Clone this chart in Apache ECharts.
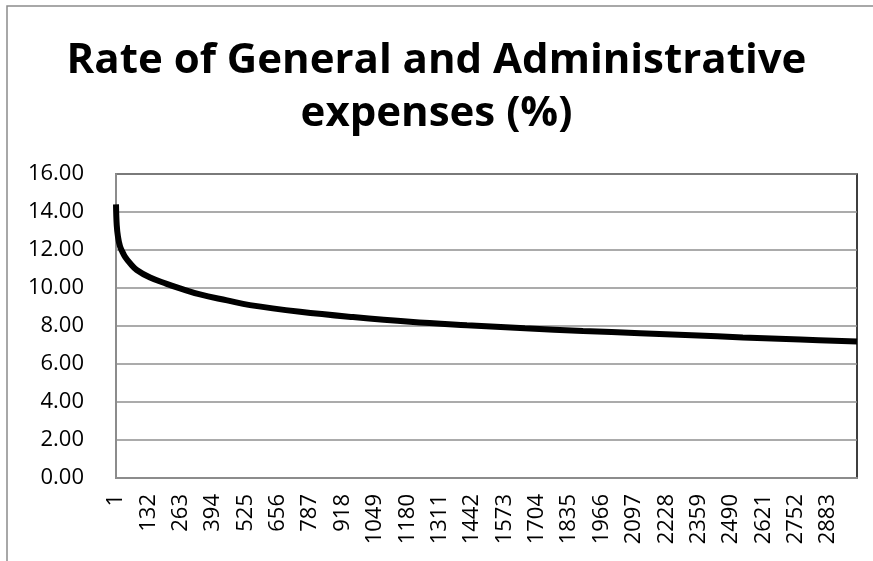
<!DOCTYPE html>
<html>
<head>
<meta charset="utf-8">
<script src="https://cdn.jsdelivr.net/npm/echarts@6/dist/echarts.min.js"></script>
<style>
  html, body { margin: 0; padding: 0; background: #fff; }
  #chart { width: 873px; height: 561px; }
</style>
</head>
<body>
<div id="chart"></div>
<script>
// number of periods on the x axis (labels 1..N)
const periodCount = 3000
const categories = Array.from({ length: periodCount }, (_, i) => String(i + 1))

// points: category index -> rate (%)
const sampleIndex = [0, 3, 8, 16, 26, 36, 57, 84, 138, 205, 259, 340, 450, 542, 745, 959, 1190, 1420, 1655, 1890, 2121, 2330, 2537, 2770, 2999]
const rateValues = [14.4, 13.3, 12.7, 12.2, 11.9, 11.65, 11.3, 10.95, 10.55, 10.22, 9.98, 9.66, 9.35, 9.1, 8.75, 8.47, 8.22, 8.04, 7.88, 7.74, 7.62, 7.51, 7.4, 7.29, 7.18]

const yTicks = { min: 0, max: 16, interval: 2 }

const chart = echarts.init(document.getElementById('chart'))

chart.setOption({
  animation: false,
  backgroundColor: '#fff',
  graphic: [
    {
      type: 'rect',
      shape: { x: 7, y: 6, width: 900, height: 600 },
      style: { fill: 'none', stroke: '#8c8c8c', lineWidth: 1.5 },
    },
  ],
  title: {
    text: 'Rate of General and Administrative\nexpenses (%)',
    left: 'center',
    top: 30,
    textStyle: {
      fontFamily: 'Open Sans',
      fontWeight: 'bold',
      fontSize: 42,
      lineHeight: 53,
      color: '#000',
    },
  },
  grid: {
    left: 116,
    right: 16,
    top: 174,
    bottom: 83,
    show: true,
    borderColor: '#000',
    borderWidth: 1.5,
  },
  xAxis: {
    type: 'category',
    data: categories,
    boundaryGap: false,
    axisLine: { lineStyle: { color: '#8c8c8c', width: 2 } },
    axisTick: { show: false },
    axisLabel: {
      interval: 130,
      rotate: 90,
      margin: 16,
      fontFamily: 'Open Sans',
      fontSize: 22,
      color: '#000',
    },
    splitLine: { show: false },
  },
  yAxis: {
    type: 'value',
    min: yTicks.min,
    max: yTicks.max,
    interval: yTicks.interval,
    axisLine: { show: true, lineStyle: { color: '#8c8c8c', width: 2 } },
    axisTick: { show: false },
    axisLabel: {
      margin: 32,
      fontFamily: 'Open Sans',
      fontSize: 22,
      color: '#000',
      formatter: (v) => v.toFixed(2),
    },
    splitLine: { lineStyle: { color: '#8f8f8f', width: 1.5 } },
  },
  series: [
    {
      name: 'Rate',
      type: 'line',
      data: sampleIndex.map((idx, i) => [idx, rateValues[i]]),
      smooth: 0.4,
      showSymbol: false,
      lineStyle: { color: '#000', width: 6 },
    },
  ],
})
</script>
</body>
</html>
